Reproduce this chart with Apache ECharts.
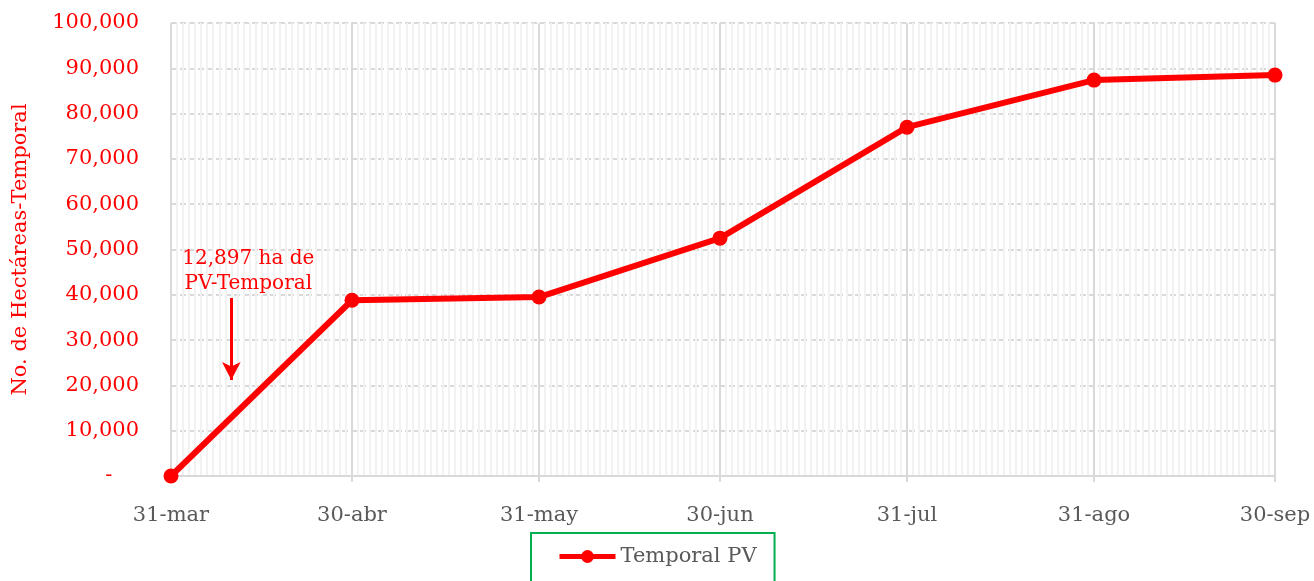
<!DOCTYPE html>
<html>
<head>
<meta charset="utf-8">
<script src="https://cdn.jsdelivr.net/npm/echarts@6/dist/echarts.min.js"></script>
<style>
  html, body { margin: 0; padding: 0; background: #fff; }
  #chart { width: 1314px; height: 581px; }
</style>
</head>
<body>
<div id="chart"></div>
<script>
// fechas de corte (días desde 31-mar) y etiquetas
const dayOffsets = [0, 30, 61, 91, 122, 153, 183]
const monthLabels = ['31-mar', '30-abr', '31-may', '30-jun', '31-jul', '31-ago', '30-sep']
// hectáreas acumuladas
const temporalPV = [0, 38800, 39500, 52500, 77000, 87400, 88500]
// anotación
const noteText = '12,897 ha de\nPV-Temporal'
const noteDay = 10
const noteFrom = 39300
const noteTo = 21200

const font = 'DejaVu Serif'
const fmt = (v) => (v === 0 ? '-    ' : v.toLocaleString('en-US'))

const chart = echarts.init(document.getElementById('chart'))
chart.setOption({
  animation: false,
  textStyle: { fontFamily: font },
  grid: { left: 171, right: 39, top: 23, bottom: 105 },
  xAxis: [
    {
      type: 'value',
      min: 0,
      max: 183,
      axisLine: { show: true, lineStyle: { color: '#d9d9d9', width: 2 } },
      axisTick: {
        show: true,
        customValues: dayOffsets,
        length: 6,
        lineStyle: { color: '#d9d9d9', width: 2 },
      },
      axisLabel: {
        customValues: dayOffsets,
        formatter: (v) => monthLabels[dayOffsets.indexOf(v)] || '',
        color: '#595959',
        fontSize: 21,
        fontFamily: font,
        margin: 29,
      },
      splitLine: { show: false },
    },
    {
      // líneas diarias
      type: 'value',
      min: 0,
      max: 183,
      interval: 1,
      position: 'bottom',
      axisLine: { show: false },
      axisTick: { show: false },
      axisLabel: { show: false },
      splitLine: { show: true, lineStyle: { color: '#f2f2f2', width: 2 } },
    },
  ],
  yAxis: {
    type: 'value',
    min: 0,
    max: 100000,
    interval: 10000,
    name: 'No. de Hectáreas-Temporal',
    nameLocation: 'middle',
    nameGap: 140,
    nameTextStyle: { color: '#ff0000', fontSize: 21, fontFamily: font },
    axisLine: { show: false },
    axisTick: { show: false },
    axisLabel: {
      formatter: fmt,
      color: '#ff0000',
      fontSize: 21,
      fontFamily: font,
      margin: 32,
    },
    splitLine: { lineStyle: { color: '#d9d9d9', width: 2, type: [6, 3] } },
  },
  legend: {
    top: 533,
    left: 531,
    padding: [13, 18, 30, 26],
    borderColor: '#00b050',
    borderWidth: 2,
    itemWidth: 56,
    itemHeight: 16,
    itemGap: 4,
    lineStyle: { width: 5 },
    textStyle: { color: '#595959', fontSize: 21, fontFamily: font },
    data: ['Temporal PV'],
  },
  series: [
    {
      name: 'Temporal PV',
      type: 'line',
      data: dayOffsets.map((d, i) => [d, temporalPV[i]]),
      color: '#ff0000',
      lineStyle: { width: 6, color: '#ff0000' },
      symbol: 'circle',
      symbolSize: 15,
      z: 5,
      markLine: {
        silent: true,
        animation: false,
        symbol: 'none',
        label: { show: false },
        lineStyle: { color: '#d9d9d9', width: 2, type: 'solid' },
        z: 1,
        data: [
          ...dayOffsets.map((d) => ({ xAxis: d })),
          [
            {
              coord: [noteDay, noteFrom],
              symbol: 'none',
              lineStyle: { color: '#ff0000', width: 3, type: 'solid' },
              label: {
                show: true,
                position: 'start',
                formatter: noteText,
                color: '#ff0000',
                fontSize: 20,
                lineHeight: 25,
                fontFamily: font,
                align: 'center',
                distance: 4,
                offset: [17, 2],
              },
            },
            { coord: [noteDay, noteTo], symbol: 'arrow', symbolSize: [14, 18] },
          ],
        ],
      },
    },
  ],
})
</script>
</body>
</html>
